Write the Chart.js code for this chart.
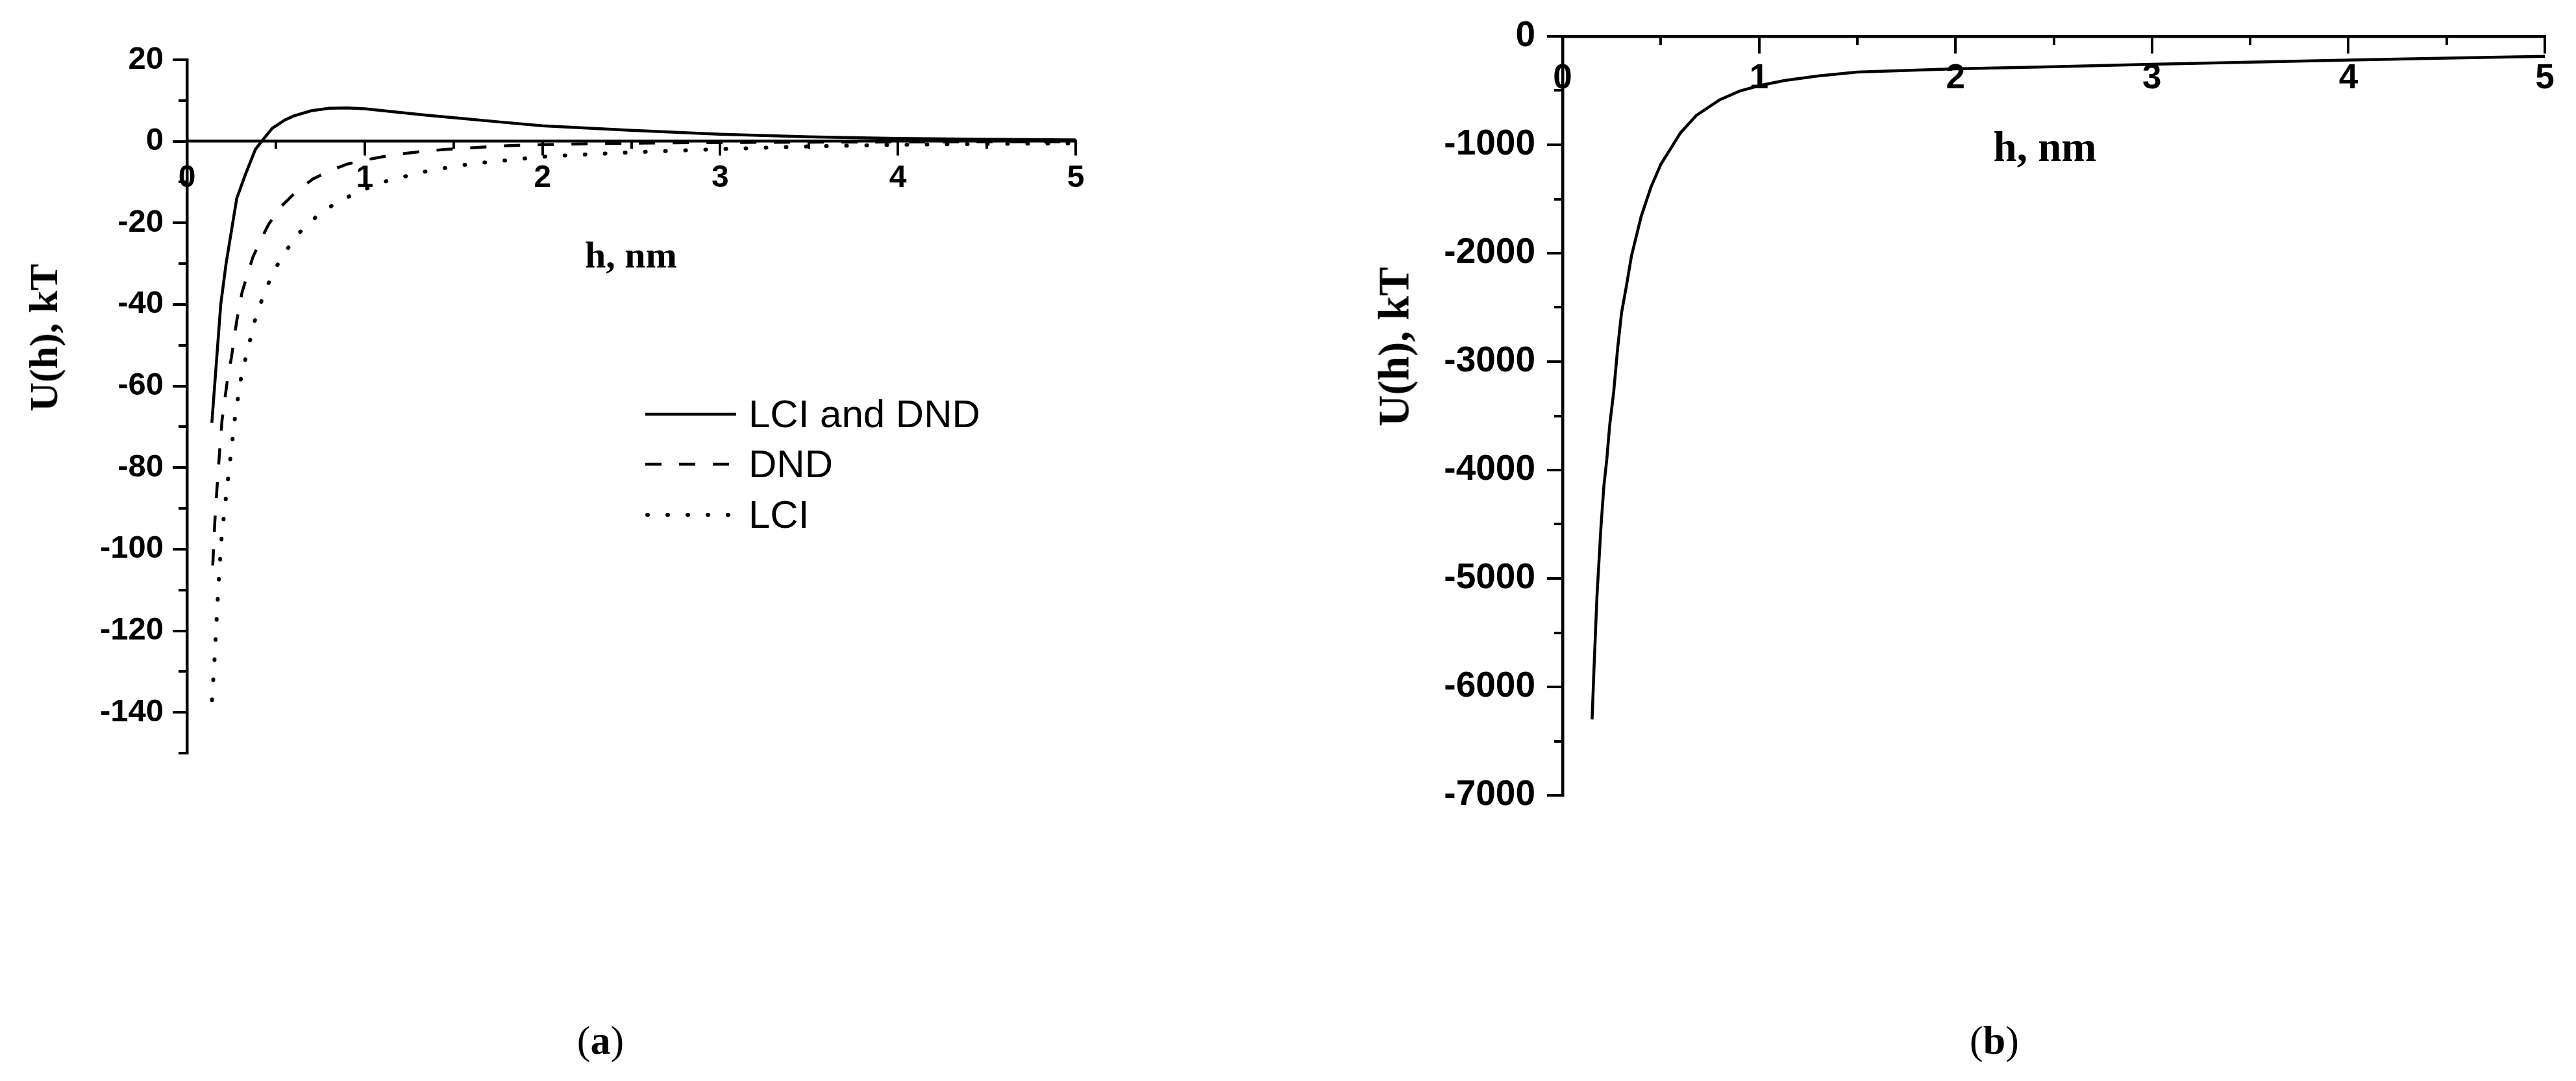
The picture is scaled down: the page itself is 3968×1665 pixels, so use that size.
<!DOCTYPE html>
<html>
<head>
<meta charset="utf-8">
<script src="https://cdn.jsdelivr.net/npm/chart.js@4.4.1/dist/chart.umd.min.js"></script>
<style>
  html, body { margin: 0; padding: 0; background: #fff; }
  #page { position: relative; width: 3968px; height: 1665px; overflow: hidden; background: #fff; }
  canvas { position: absolute; top: 0; }
  .txt { position: absolute; transform: translate(-50%, -50%); white-space: nowrap; line-height: 1; color: #000; }
  .serif { font-family: "Liberation Serif", "Times New Roman", serif; }
  .bold { font-weight: bold; }
  .rot { transform: translate(-50%, -50%) rotate(-90deg); }
  .legend-row { position: absolute; display: flex; align-items: center; transform: translateY(-50%);
                font-family: "Liberation Sans", Arial, sans-serif; font-size: 60px; line-height: 1; color: #000; }
  .legend-row svg { margin-right: 19px; }
</style>
</head>
<body>
<div id="page">
  <canvas id="chartA" width="1984" height="1665" style="left:0"></canvas>
  <canvas id="chartB" width="1984" height="1665" style="left:1984px"></canvas>

  <div class="txt serif bold rot" style="left:67px;top:520px;font-size:62px">U(h), kT</div>
  <div class="txt serif bold" style="left:972px;top:393px;font-size:58px">h, nm</div>
  <div class="txt serif bold rot" style="left:2147px;top:534px;font-size:67px">U(h), kT</div>
  <div class="txt serif bold" style="left:3150px;top:226px;font-size:65px">h, nm</div>

  <div class="txt serif" style="left:925px;top:1602px;font-size:62px">(<b>a</b>)</div>
  <div class="txt serif" style="left:3072px;top:1602px;font-size:62px">(<b>b</b>)</div>

  <div id="legendA"></div>
</div>

<script>
// (a) potencial para tres casos, h em nm e U em kT
const hLciDnd = [0.14, 0.19, 0.22, 0.28, 0.33, 0.385, 0.42, 0.48, 0.55, 0.6, 0.7, 0.8, 0.9, 1.0, 1.13, 1.35, 1.55, 1.77, 2.0, 2.5, 3.0, 3.5, 4.0, 4.5, 5.0];
const uLciDnd = [-69, -40, -30, -14, -8, -2, 0, 3.2, 5.2, 6.2, 7.5, 8.1, 8.2, 8.0, 7.4, 6.4, 5.6, 4.7, 3.8, 2.7, 1.75, 1.1, 0.7, 0.5, 0.35];

const hDnd = [0.145, 0.157, 0.169, 0.182, 0.197, 0.226, 0.25, 0.28, 0.31, 0.345, 0.37, 0.41, 0.46, 0.525, 0.62, 0.71, 0.81, 0.9, 1.0, 1.1, 1.2, 1.3, 1.45, 1.6, 1.8, 2.0, 2.5, 3.0, 3.5, 4.0, 4.5, 5.0];
const uDnd = [-104, -93, -85, -77, -68.5, -59, -53, -44, -37, -32, -28.5, -24.6, -20.3, -16.2, -12.1, -9.2, -7.1, -5.6, -4.6, -3.8, -3.1, -2.6, -2.0, -1.6, -1.1, -0.8, -0.45, -0.3, -0.2, -0.15, -0.1, -0.08];

const hLci = [0.141, 0.155, 0.167, 0.18, 0.195, 0.22, 0.246, 0.272, 0.306, 0.334, 0.362, 0.39, 0.434, 0.48, 0.546, 0.63, 0.742, 0.86, 1.0, 1.085, 1.2, 1.31, 1.43, 1.54, 1.65, 1.77, 1.88, 2.0, 2.11, 2.5, 3.0, 3.5, 4.0, 4.5, 5.0];
const uLci = [-137, -127, -117, -107, -97, -87, -77, -67, -57.5, -52.5, -47.5, -42.5, -37.5, -32.5, -27.5, -22.5, -17.9, -14.5, -11.8, -10.2, -8.9, -7.7, -6.7, -5.9, -5.3, -4.8, -4.3, -3.8, -3.5, -2.7, -1.9, -1.25, -0.85, -0.65, -0.5];

// (b)
const hB = [0.15, 0.16, 0.175, 0.195, 0.21, 0.225, 0.24, 0.26, 0.28, 0.30, 0.325, 0.35, 0.4, 0.45, 0.5, 0.6, 0.68, 0.8, 0.9, 1.0, 1.13, 1.3, 1.5, 2.0, 2.5, 3.0, 3.5, 4.0, 4.5, 5.0];
const uB = [-6300, -5820, -5160, -4530, -4150, -3900, -3580, -3280, -2880, -2550, -2300, -2030, -1660, -1390, -1180, -890, -730, -585, -505, -455, -407, -365, -330, -300, -280, -258, -238, -219, -200, -184];

// marcas dos eixos
const ticksH = [0, 1, 2, 3, 4, 5];
const ticksHMinor = [0, 0.5, 1, 1.5, 2, 2.5, 3, 3.5, 4, 4.5, 5];
const ticksUA = [20, 0, -20, -40, -60, -80, -100, -120, -140];
const ticksUAMinor = [20, 10, 0, -10, -20, -30, -40, -50, -60, -70, -80, -90, -100, -110, -120, -130, -140, -150];
const ticksUB = [0, -1000, -2000, -3000, -4000, -5000, -6000, -7000];
const ticksUBMinor = [0, -500, -1000, -1500, -2000, -2500, -3000, -3500, -4000, -4500, -5000, -5500, -6000, -6500, -7000];

const seriesA = [
    { label: 'LCI and DND', h: hLciDnd, u: uLciDnd, dash: [], cap: 'butt', width: 4.5 },
    { label: 'DND', h: hDnd, u: uDnd, dash: [25, 27], cap: 'butt', width: 4.5 },
    { label: 'LCI', h: hLci, u: uLci, dash: [1, 30], cap: 'round', width: 6 }
];

const sansFont = '"Liberation Sans", Arial, sans-serif';

function toPoints(h, u) {
    return h.map((v, i) => ({ x: v, y: u[i] }));
}

function makeDataset(s) {
    return {
        label: s.label,
        data: toPoints(s.h, s.u),
        borderColor: '#000',
        borderWidth: s.width,
        borderDash: s.dash,
        borderCapStyle: s.cap,
        pointRadius: 0,
        fill: false,
        tension: 0
    };
}

function fixedTicks(list) {
    return scale => { scale.ticks = list.map(v => ({ value: v })); };
}

// eixo principal (com rotulos) ou secundario (so marcas curtas)
function axis(kind, min, max, list, tickLength, labels) {
    let pos = kind === 'x' ? { y: 0 } : { x: 0 };
    const cfg = {
        type: 'linear',
        axis: kind,
        min: min,
        max: max,
        afterBuildTicks: fixedTicks(list),
        grid: { display: true, drawOnChartArea: false, drawTicks: true, tickLength: tickLength, lineWidth: 4, color: '#000' },
        border: { display: !!labels, width: 4.5, color: '#000' },
        ticks: labels ? {
            display: true,
            autoSkip: false,
            maxRotation: 0,
            padding: labels.padding,
            color: '#000',
            font: { family: sansFont, weight: 'bold', size: labels.size },
            callback: v => String(v)
        } : { display: false }
    };
    // eixo y com rotulos fica a esquerda, com largura fixa
    if (kind === 'y' && labels) {
        pos = 'left';
        cfg.afterFit = scale => { scale.width = labels.width; };
    }
    cfg.position = pos;
    return cfg;
}

function makeChart(canvasId, datasets, scales, padding) {
    const ctx = document.getElementById(canvasId).getContext('2d');
    return new Chart(ctx, {
        type: 'line',
        data: { datasets: datasets },
        options: {
            responsive: false,
            animation: false,
            devicePixelRatio: 1,
            layout: { padding: padding },
            plugins: { legend: { display: false }, tooltip: { enabled: false } },
            scales: scales
        }
    });
}

function buildLegend() {
    const box = document.getElementById('legendA');
    const rowsY = [638, 715, 793];
    seriesA.forEach((s, i) => {
        const row = document.createElement('div');
        row.className = 'legend-row';
        row.style.left = '994px';
        row.style.top = rowsY[i] + 'px';
        const dash = s.dash.length ? `stroke-dasharray="${s.dash.join(' ')}"` : '';
        row.innerHTML = `<svg width="140" height="12" viewBox="0 0 140 12">
            <line x1="${s.cap === 'round' ? 3 : 0}" y1="6" x2="140" y2="6" stroke="#000" stroke-width="${s.width}"
                  stroke-linecap="${s.cap}" ${dash}/></svg><span>${s.label}</span>`;
        box.appendChild(row);
    });
}

document.addEventListener('DOMContentLoaded', () => {
    makeChart('chartA', seriesA.map(makeDataset), {
        x: axis('x', 0, 5, ticksH, 20, { size: 48, padding: 8 }),
        x2: axis('x', 0, 5, ticksHMinor, 11, null),
        y: axis('y', -150, 20, ticksUA, 22, { size: 49, padding: 14, width: 250 }),
        y2: axis('y', -150, 20, ticksUAMinor, 13, null)
    }, { left: 38, right: 327, top: 92, bottom: 505 });

    makeChart('chartB', [makeDataset({ label: 'U', h: hB, u: uB, dash: [], cap: 'butt', width: 4.5 })], {
        x: axis('x', 0, 5, ticksH, 24, { size: 53, padding: 10 }),
        x2: axis('x', 0, 5, ticksHMinor, 13, null),
        y: axis('y', -7000, 0, ticksUB, 24, { size: 55, padding: 18, width: 300 }),
        y2: axis('y', -7000, 0, ticksUBMinor, 13, null)
    }, { left: 123, right: 48, top: 56, bottom: 440 });

    buildLegend();
});
</script>
</body>
</html>
